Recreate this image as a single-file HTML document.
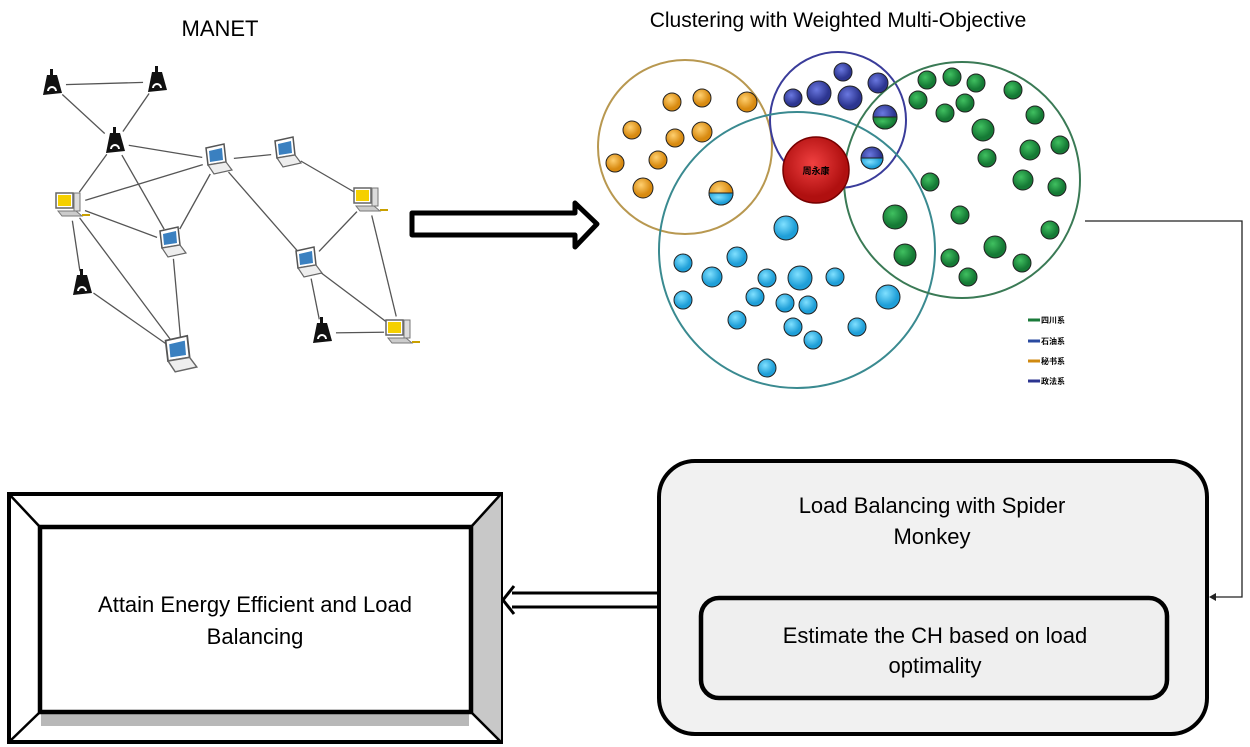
<!DOCTYPE html>
<html><head><meta charset="utf-8"><style>
html,body{margin:0;padding:0;background:#fff;}
svg{display:block;font-family:"Liberation Sans",Arial,sans-serif;}
</style></head><body>
<svg width="1250" height="747" viewBox="0 0 1250 747" xmlns="http://www.w3.org/2000/svg">
<defs>
<radialGradient id="go" cx="40%" cy="35%"><stop offset="0" stop-color="#ffd070"/><stop offset="1" stop-color="#d88a10"/></radialGradient>
<radialGradient id="gp" cx="40%" cy="35%"><stop offset="0" stop-color="#6a78e0"/><stop offset="1" stop-color="#2c3590"/></radialGradient>
<radialGradient id="gg" cx="40%" cy="35%"><stop offset="0" stop-color="#40c060"/><stop offset="1" stop-color="#157a35"/></radialGradient>
<radialGradient id="gc" cx="40%" cy="35%"><stop offset="0" stop-color="#80e0ff"/><stop offset="1" stop-color="#1f9fd8"/></radialGradient>
<radialGradient id="gr" cx="45%" cy="40%"><stop offset="0" stop-color="#f04040"/><stop offset="1" stop-color="#b01010"/></radialGradient>
<g id="phone"><rect x="-2" y="-16" width="3" height="8" fill="#111"/><path d="M-9,10 L-5,-10 L5,-10 L10,8 Z" fill="#111"/><path d="M-4,6 a4,4 0 0 1 8,0" stroke="#fff" stroke-width="2" fill="none"/></g>
<g id="laptop"><path d="M-10,-12 L8,-16 L10,2 L-8,5 Z" fill="#fff" stroke="#555" stroke-width="1.5"/><path d="M-7,-9 L6,-12 L7,0 L-6,2 Z" fill="#3a80c0"/><path d="M-8,5 L10,2 L16,10 L-2,14 Z" fill="#eee" stroke="#666" stroke-width="1.2"/></g>
<g id="desk"><rect x="-12" y="-12" width="17" height="15" fill="#fff" stroke="#666" stroke-width="1.5"/><rect x="-10" y="-10" width="13" height="11" fill="#f5d000"/><rect x="6" y="-12" width="6" height="18" fill="#ddd" stroke="#777"/><path d="M-10,6 L8,6 L14,11 L-6,11 Z" fill="#ccc" stroke="#777"/><line x1="14" y1="10" x2="22" y2="10" stroke="#c9a000" stroke-width="2"/></g>
</defs>

<text x="220" y="36" font-size="22" text-anchor="middle">MANET</text>
<text x="838" y="27" font-size="21" text-anchor="middle">Clustering with Weighted Multi-Objective</text>

<!-- MANET edges -->
<g stroke="#555" stroke-width="1.3">
<line x1="52" y1="85" x2="157" y2="82"/><line x1="52" y1="85" x2="115" y2="143"/><line x1="157" y1="82" x2="115" y2="143"/>
<line x1="115" y1="143" x2="218" y2="160"/><line x1="115" y1="143" x2="70" y2="205"/><line x1="115" y1="143" x2="172" y2="243"/>
<line x1="218" y1="160" x2="287" y2="153"/><line x1="218" y1="160" x2="70" y2="205"/><line x1="218" y1="160" x2="172" y2="243"/><line x1="218" y1="160" x2="308" y2="263"/>
<line x1="287" y1="153" x2="368" y2="200"/><line x1="70" y1="205" x2="172" y2="243"/><line x1="70" y1="205" x2="82" y2="285"/><line x1="70" y1="205" x2="182" y2="355"/>
<line x1="172" y1="243" x2="182" y2="355"/><line x1="82" y1="285" x2="182" y2="355"/><line x1="368" y1="200" x2="308" y2="263"/><line x1="368" y1="200" x2="400" y2="332"/>
<line x1="308" y1="263" x2="322" y2="333"/><line x1="308" y1="263" x2="400" y2="332"/><line x1="322" y1="333" x2="400" y2="332"/>
</g>
<g fill="#fff"><circle cx="52" cy="85" r="14"/><circle cx="157" cy="82" r="14"/><circle cx="115" cy="143" r="14"/><circle cx="82" cy="285" r="14"/><circle cx="322" cy="333" r="14"/>
<circle cx="218" cy="160" r="16"/><circle cx="287" cy="153" r="16"/><circle cx="172" cy="243" r="16"/><circle cx="308" cy="263" r="16"/><circle cx="182" cy="355" r="18"/>
<circle cx="70" cy="205" r="16"/><circle cx="368" cy="200" r="16"/><circle cx="400" cy="332" r="16"/></g>
<use href="#phone" x="52" y="85"/><use href="#phone" x="157" y="82"/><use href="#phone" x="115" y="143"/><use href="#phone" x="82" y="285"/><use href="#phone" x="322" y="333"/>
<use href="#laptop" x="216" y="160"/><use href="#laptop" x="285" y="153"/><use href="#laptop" x="170" y="243"/><use href="#laptop" x="306" y="263"/><use href="#laptop" x="178" y="355" transform="translate(-36,-71) scale(1.2)" />
<use href="#desk" x="68" y="205"/><use href="#desk" x="366" y="200"/><use href="#desk" x="398" y="332"/>

<!-- big arrow -->
<path d="M412,213 L575,213 L575,203 L597,224 L575,247 L575,235 L412,235 Z" fill="#fff" stroke="#000" stroke-width="5" stroke-linejoin="round"/>

<!-- clusters -->
<g fill="none" stroke-width="2">
<circle cx="685" cy="147" r="87" stroke="#b89850"/>
<circle cx="838" cy="120" r="68" stroke="#3a3c9a"/>
<circle cx="797" cy="250" r="138" stroke="#3a8a90"/>
<circle cx="962" cy="180" r="118" stroke="#3a7a55"/>
</g>
<circle cx="816" cy="170" r="33" fill="url(#gr)" stroke="#700" stroke-width="1.5"/>
<text x="816" y="174" font-size="9" font-weight="bold" text-anchor="middle" font-family="Noto Sans CJK SC,sans-serif">周永康</text>
<g stroke="#222" stroke-width="1">
<g fill="url(#go)">
<circle cx="672" cy="102" r="9"/><circle cx="702" cy="98" r="9"/><circle cx="747" cy="102" r="10"/><circle cx="632" cy="130" r="9"/><circle cx="675" cy="138" r="9"/><circle cx="702" cy="132" r="10"/><circle cx="615" cy="163" r="9"/><circle cx="658" cy="160" r="9"/><circle cx="643" cy="188" r="10"/><circle cx="721" cy="193" r="12"/></g>
<path d="M709,193 a12,12 0 0 0 24,0 Z" fill="url(#gc)"/>
<g fill="url(#gp)">
<circle cx="843" cy="72" r="9"/><circle cx="878" cy="83" r="10"/><circle cx="793" cy="98" r="9"/><circle cx="819" cy="93" r="12"/><circle cx="850" cy="98" r="12"/><circle cx="885" cy="117" r="12"/><circle cx="872" cy="158" r="11"/></g>
<path d="M873,117 a12,12 0 0 0 24,0 Z" fill="url(#gg)"/>
<path d="M861,158 a11,11 0 0 0 22,0 Z" fill="url(#gc)"/>
<g fill="url(#gg)">
<circle cx="927" cy="80" r="9"/><circle cx="952" cy="77" r="9"/><circle cx="976" cy="83" r="9"/><circle cx="1013" cy="90" r="9"/><circle cx="918" cy="100" r="9"/><circle cx="945" cy="113" r="9"/><circle cx="965" cy="103" r="9"/><circle cx="1035" cy="115" r="9"/><circle cx="983" cy="130" r="11"/><circle cx="1060" cy="145" r="9"/><circle cx="1030" cy="150" r="10"/><circle cx="987" cy="158" r="9"/><circle cx="1023" cy="180" r="10"/><circle cx="930" cy="182" r="9"/><circle cx="1057" cy="187" r="9"/><circle cx="960" cy="215" r="9"/><circle cx="895" cy="217" r="12"/><circle cx="1050" cy="230" r="9"/><circle cx="995" cy="247" r="11"/><circle cx="905" cy="255" r="11"/><circle cx="950" cy="258" r="9"/><circle cx="1022" cy="263" r="9"/><circle cx="968" cy="277" r="9"/></g>
<g fill="url(#gc)">
<circle cx="786" cy="228" r="12"/><circle cx="737" cy="257" r="10"/><circle cx="683" cy="263" r="9"/><circle cx="712" cy="277" r="10"/><circle cx="767" cy="278" r="9"/><circle cx="800" cy="278" r="12"/><circle cx="835" cy="277" r="9"/><circle cx="683" cy="300" r="9"/><circle cx="755" cy="297" r="9"/><circle cx="888" cy="297" r="12"/><circle cx="785" cy="303" r="9"/><circle cx="808" cy="305" r="9"/><circle cx="737" cy="320" r="9"/><circle cx="793" cy="327" r="9"/><circle cx="857" cy="327" r="9"/><circle cx="813" cy="340" r="9"/><circle cx="767" cy="368" r="9"/></g>
</g>
<!-- legend -->
<g font-size="8" font-weight="bold" font-family="Noto Sans CJK SC,sans-serif">
<line x1="1028" y1="320" x2="1040" y2="320" stroke="#1a7a3a" stroke-width="3"/><text x="1041" y="323">四川系</text>
<line x1="1028" y1="341" x2="1040" y2="341" stroke="#2a4aa0" stroke-width="3"/><text x="1041" y="344">石油系</text>
<line x1="1028" y1="361" x2="1040" y2="361" stroke="#d08a10" stroke-width="3"/><text x="1041" y="364">秘书系</text>
<line x1="1028" y1="381" x2="1040" y2="381" stroke="#2c3590" stroke-width="3"/><text x="1041" y="384">政法系</text>
</g>

<!-- connector -->
<polyline points="1085,221 1242,221 1242,597 1212,597" fill="none" stroke="#222" stroke-width="1.3"/>
<path d="M1209,597 l7,-4 l0,8 Z" fill="#222"/>

<!-- right box -->
<rect x="659" y="461" width="548" height="273" rx="36" fill="#f1f1f1" stroke="#000" stroke-width="4"/>
<text font-size="22" text-anchor="middle"><tspan x="932" y="513">Load Balancing with Spider</tspan><tspan x="932" y="544">Monkey</tspan></text>
<rect x="701" y="598" width="466" height="100" rx="18" fill="#efefef" stroke="#000" stroke-width="4.5"/>
<text font-size="22" text-anchor="middle"><tspan x="935" y="643">Estimate the CH based on load</tspan><tspan x="935" y="673">optimality</tspan></text>

<!-- left double arrow -->
<line x1="657" y1="593" x2="512" y2="593" stroke="#000" stroke-width="3"/>
<line x1="657" y1="607" x2="512" y2="607" stroke="#000" stroke-width="3"/>
<polyline points="514,586 503,600 514,614" fill="none" stroke="#000" stroke-width="3"/>

<!-- left bevel box -->
<rect x="9" y="494" width="492" height="248" fill="#fff" stroke="#000" stroke-width="4"/>
<rect x="40" y="690" width="430" height="20" fill="#fff"/>
<rect x="41" y="712" width="428" height="14" fill="#b8b8b8"/>
<path d="M471,527 L501,494 L501,742 L471,712 Z" fill="#c8c8c8"/>
<g stroke="#000" stroke-width="2.5" fill="none">
<line x1="9" y1="494" x2="40" y2="527"/><line x1="501" y1="494" x2="471" y2="527"/><line x1="9" y1="742" x2="40" y2="712"/><line x1="501" y1="742" x2="471" y2="712"/>
</g>
<rect x="40" y="527" width="431" height="185" fill="#fff" stroke="#000" stroke-width="4.5"/>
<text font-size="22" text-anchor="middle"><tspan x="255" y="612">Attain Energy Efficient and Load</tspan><tspan x="255" y="644">Balancing</tspan></text>
</svg>
</body></html>
